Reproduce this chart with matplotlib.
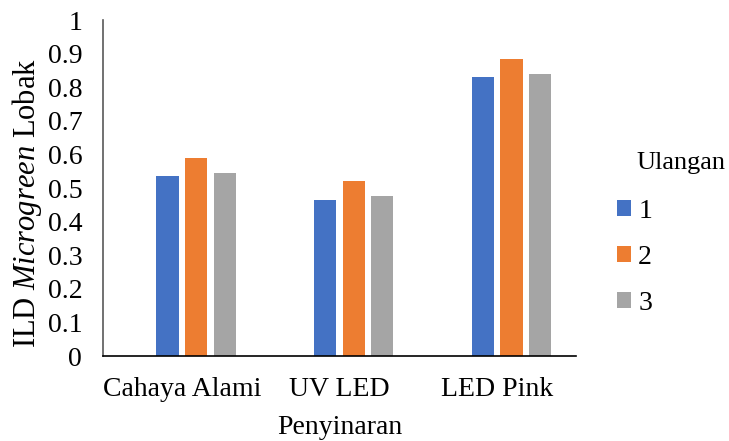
import matplotlib
matplotlib.use("Agg")
import matplotlib.pyplot as plt
import numpy as np

categories = ["Cahaya Alami", "UV LED", "LED Pink"]
series_names = ["1", "2", "3"]
ulangan_1 = [0.535, 0.465, 0.83]
ulangan_2 = [0.59, 0.52, 0.885]
ulangan_3 = [0.545, 0.475, 0.84]
colors = ["#4472C4", "#ED7D31", "#A5A5A5"]

plt.rcParams["font.family"] = ["Liberation Serif", "DejaVu Serif"]
plt.rcParams["mathtext.fontset"] = "custom"
plt.rcParams["mathtext.rm"] = "Liberation Serif"
plt.rcParams["mathtext.it"] = "Liberation Serif:italic"

FS = 20

fig = plt.figure(figsize=(7.29, 4.41), dpi=100)
ax = fig.add_axes([103 / 729, 85 / 441, 473 / 729, 336 / 441])

x = np.arange(len(categories))
step = 0.181
width = 0.141
offsets = [-0.5 * step, 0.5 * step, 1.5 * step]
handles = []
for vals, off, col, name in zip([ulangan_1, ulangan_2, ulangan_3], offsets, colors, series_names):
    h = ax.bar(x + off, vals, width=width, color=col, label=name)
    handles.append(h)

ax.set_xlim(-0.5, 2.5)
ax.set_ylim(0, 1)
ax.set_yticks(np.arange(0, 1.01, 0.1))
ax.set_yticklabels(["0", "0.1", "0.2", "0.3", "0.4", "0.5", "0.6", "0.7", "0.8", "0.9", "1"])
ax.set_xticks(x)
ax.set_xticklabels(categories)
ax.tick_params(axis="both", length=0, labelsize=FS)
ax.tick_params(axis="y", pad=15)
ax.tick_params(axis="x", pad=15)

for s in ["top", "right"]:
    ax.spines[s].set_visible(False)
ax.spines["left"].set_color("#595959")
ax.spines["left"].set_linewidth(1.2)
ax.spines["bottom"].set_color("#000000")
ax.spines["bottom"].set_linewidth(1.2)

ax.set_ylabel(r"ILD $\mathit{Microgreen}$ Lobak", fontsize=22)
ax.yaxis.set_label_coords(-76 / 473, (356 - 203) / 336)
ax.yaxis.label.set_va("center")
ax.set_xlabel("Penyinaran", fontsize=FS)
ax.xaxis.set_label_coords(0.5, -(428 - 356) / 336)
ax.xaxis.label.set_va("center")

fig.text(636 / 729, 1 - 163 / 441, "Ulangan", fontsize=19, va="center", ha="left")
fig.legend(handles=handles, labels=series_names, loc="upper left",
           bbox_to_anchor=(617 / 729, 1 - 199 / 441), frameon=False,
           fontsize=FS, handlelength=0.5, handleheight=0.5,
           handletextpad=0.26, labelspacing=0.75, borderpad=0, borderaxespad=0)

fig.savefig("out.png", dpi=100)
